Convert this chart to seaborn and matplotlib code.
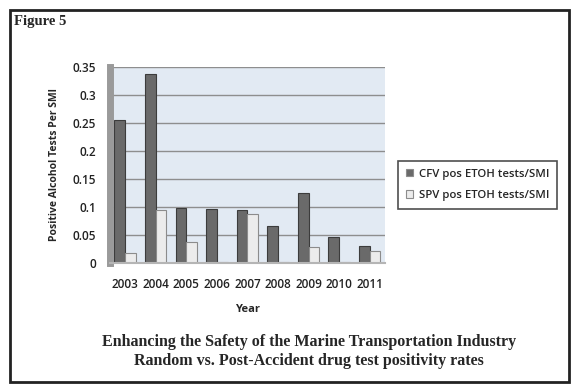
import matplotlib
matplotlib.use("Agg")
import matplotlib.pyplot as plt
import seaborn as sns
import pandas as pd
from matplotlib.patches import Rectangle

years = ["2003", "2004", "2005", "2006", "2007", "2008", "2009", "2010", "2011"]
cfv = [0.255, 0.337, 0.098, 0.097, 0.094, 0.066, 0.125, 0.047, 0.031]
spv = [0.018, 0.094, 0.037, 0.001, 0.088, 0.002, 0.028, 0.001, 0.021]
series_names = ["CFV pos ETOH tests/SMI", "SPV pos ETOH tests/SMI"]
yticks = [0, 0.05, 0.1, 0.15, 0.2, 0.25, 0.3, 0.35]
ytick_labels = ["0", "0.05", "0.1", "0.15", "0.2", "0.25", "0.3", "0.35"]

df = pd.DataFrame({
    "Year": years * 2,
    "Rate": cfv + spv,
    "Series": [series_names[0]] * len(years) + [series_names[1]] * len(years),
})

sns.set_style("white")
plt.rcParams["font.family"] = ["Open Sans", "DejaVu Sans"]

fig = plt.figure(figsize=(5.72, 3.85), dpi=100)
fig.patch.set_facecolor("white")
ax = fig.add_axes([0.192, 0.317, 0.481, 0.509])
ax.set_facecolor("#e2eaf3")

sns.barplot(data=df, x="Year", y="Rate", hue="Series",
            palette=["#6a6a6a", "#ececec"], width=0.7, ax=ax,
            edgecolor="#8c8c8c", linewidth=0.8, legend=True)
for p in ax.patches[:len(years)]:
    p.set_edgecolor("#3c3c3c")

ax.set_ylim(0, 0.35)
ax.set_yticks(yticks)
ax.set_yticklabels(ytick_labels)
ax.yaxis.grid(True, color="#8e8e8e", linewidth=1.0)
ax.set_axisbelow(True)
for s in ["top", "right"]:
    ax.spines[s].set_visible(False)
ax.spines["left"].set_color("#9a9a9a")
ax.spines["left"].set_linewidth(5)
ax.spines["bottom"].set_color("#b5b5b5")
ax.spines["bottom"].set_linewidth(1.5)
ax.tick_params(axis="y", labelsize=8.5, colors="#222222", length=0, pad=10)
ax.tick_params(axis="x", labelsize=8.5, colors="#222222", length=0, pad=11)
for t in ax.get_xticklabels() + ax.get_yticklabels():
    t.set_fontweight("semibold")

ax.set_xlabel("Year", fontsize=8, fontweight="bold", labelpad=9)
ax.set_ylabel("Positive Alcohol Tests Per SMI", fontsize=7.5, fontweight="bold", labelpad=9)

handles, labels = ax.get_legend_handles_labels()
ax.get_legend().remove()
leg = fig.legend(handles, labels, loc="center left", bbox_to_anchor=(0.686, 0.52),
                 fontsize=8.2, frameon=True, fancybox=False, handlelength=0.6,
                 handleheight=0.6, borderpad=0.7, labelspacing=0.9, handletextpad=0.5)
leg.get_frame().set_edgecolor("#222222")
leg.get_frame().set_linewidth(1.2)
for t in leg.get_texts():
    t.set_fontweight("semibold")

fig.text(0.024, 0.945, "Figure 5", fontsize=10.5, fontweight="bold",
         family="Liberation Serif", ha="left", va="center")
fig.text(0.54, 0.112, "Enhancing the Safety of the Marine Transportation Industry",
         fontsize=11.5, fontweight="bold", family="Liberation Serif", ha="center", va="center")
fig.text(0.54, 0.062, "Random vs. Post-Accident drug test positivity rates",
         fontsize=11.5, fontweight="bold", family="Liberation Serif", ha="center", va="center")

fig.add_artist(Rectangle((0.018, 0.008), 0.977, 0.966, transform=fig.transFigure,
                         fill=False, edgecolor="#222222", linewidth=2))

fig.savefig("out.png", dpi=100)
